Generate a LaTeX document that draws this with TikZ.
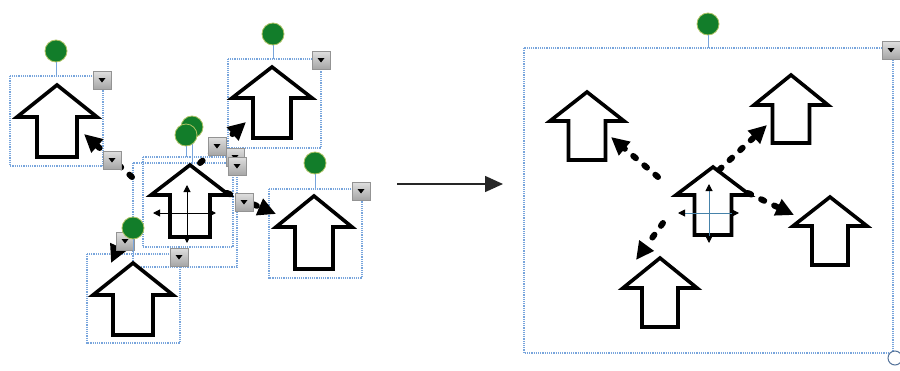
\documentclass[tikz,border=0pt]{standalone}
\usetikzlibrary{arrows.meta}
\definecolor{selblue}{RGB}{120,165,220}
\definecolor{dotgreen}{RGB}{18,125,42}
\definecolor{greenrim}{RGB}{175,195,100}
\definecolor{crossblue}{RGB}{70,130,170}
\tikzset{
 selbox/.style={draw=selblue, line width=1.3pt, dash pattern=on 1.2pt off 1pt},
 arrshape/.style={draw=black, fill=white, line width=3.6pt, line join=miter},
 handle/.style={circle, fill=dotgreen, draw=greenrim, line width=0.8pt, minimum size=22pt, inner sep=0pt},
 stem/.style={draw=selblue, line width=1pt},
 menubtn/.style={rectangle, minimum size=18pt, inner sep=0pt, draw=gray!85, top color=gray!25, bottom color=gray!70},
 dasharr/.style={line width=6pt, line cap=round, dash pattern=on 3.5pt off 11pt, -{Triangle[length=18pt,width=17pt]}},
 movecross/.style={line width=1pt, {Triangle[length=7pt,width=7pt,color=black]}-{Triangle[length=7pt,width=7pt,color=black]}},
 flowarr/.style={draw=black!85, line width=1.5pt, -{Triangle[length=18pt,width=16pt]}},
 resizer/.style={circle, draw=selblue!70!black, fill=white, line width=1pt, minimum size=14pt, inner sep=0pt},
}
% name, cx, tip y, head base y, bottom y, head half width, shaft half width
\newcommand{\UpArr}[7]{%
 \draw[arrshape] (#2,#3) -- (#2+#6,#4) -- (#2+#7,#4) -- (#2+#7,#5) -- (#2-#7,#5) -- (#2-#7,#4) -- (#2-#6,#4) -- cycle;
 \coordinate (#1) at (#2,#3);}
\newcommand{\Btn}[3]{%
 \node[menubtn] (#1) at (#2,#3) {};
 \fill (#1.center) +(-3.5,-2) -- +(3.5,-2) -- +(0,2.5) -- cycle;}
\newcommand{\Handle}[4]{%
 \coordinate (#1-s) at (#2,#4);
 \node[handle] (#1) at (#2,#3) {};
 \draw[stem] (#1.south) -- (#1-s);}
\begin{document}
\begin{tikzpicture}[x=1pt,y=-1pt]
\useasboundingbox[fill=white] (0,0) rectangle (900,370);

% ---------- left: selection boxes ----------
\draw[selbox] (10,76) rectangle (103,166);
\draw[selbox] (228,59) rectangle (321,148);
\draw[selbox] (269,189) rectangle (362,278);
\draw[selbox] (87,254) rectangle (180,343);
\draw[selbox] (143,157) rectangle (233,247);
\draw[selbox] (133,163) rectangle (237,267);

% ---------- left: arrow shapes ----------
\UpArr{la}{57}{85}{117}{157}{40}{20}
\UpArr{lb}{272}{67}{98}{138}{40}{19}
\UpArr{lc}{314}{196}{227}{269}{38}{19}
\UpArr{ld}{133}{263}{295}{335}{40}{20}
\UpArr{le}{190}{165}{195}{237}{39}{20}
\coordinate (lcv1) at (187,185); \coordinate (lcv2) at (187,243);
\coordinate (lch1) at (153,213); \coordinate (lch2) at (216,213);
\draw[movecross] (lcv1) -- (lcv2);
\draw[movecross] (lch1) -- (lch2);

% ---------- left: dashed arrows ----------
\coordinate (lsA) at (132,177); \coordinate (ltA) at (84,134);
\coordinate (lsB) at (200,163); \coordinate (ltB) at (246,122);
\coordinate (lsC) at (227,193); \coordinate (ltC) at (276,214);
\coordinate (lsD) at (127,228); \coordinate (ltD) at (111,263);
\draw[dasharr] (lsA) -- (ltA);
\draw[dasharr] (lsB) -- (ltB);
\draw[dasharr] (lsC) -- (ltC);
\draw[dasharr] (lsD) -- (ltD);

% ---------- left: menu buttons ----------
\Btn{bda}{112}{160}
\Btn{bdb}{217}{146}
\Btn{bdc}{244}{202}
\Btn{bdd}{125}{241}
\Btn{bla}{102}{80}
\Btn{blb}{321}{60}
\Btn{blc}{361}{191}
\Btn{bld}{179}{257}
\Btn{ble}{235}{157}
\Btn{blf}{237}{166}

% ---------- left: handles ----------
\Handle{hla}{56}{51}{76}
\Handle{hlb}{273}{34}{59}
\Handle{hlc}{315}{163}{189}
\Handle{hld}{133}{228}{254}
\Handle{hlf}{192}{127}{163}
\Handle{hle}{186}{135}{157}

% ---------- middle arrow ----------
\coordinate (ms) at (397,184); \coordinate (mt) at (503,184);
\draw[flowarr] (ms) -- (mt);

% ---------- right ----------
\draw[selbox] (524,48) rectangle (893,353);
\Handle{hr}{708}{24}{48}
\Btn{br}{891}{50}
\node[resizer] (rz) at (895,358) {};

\UpArr{ra}{587}{92}{121}{160}{37}{18.5}
\UpArr{rb}{791}{75}{105}{143}{37}{18.5}
\UpArr{rc}{830}{197}{226}{265}{37}{18}
\UpArr{rd}{660}{258}{288}{327}{37}{18}
\UpArr{re}{713}{167}{195}{235}{37}{18.5}
\coordinate (rcv1) at (709,184); \coordinate (rcv2) at (709,243);
\coordinate (rch1) at (678,213); \coordinate (rch2) at (739,213);
\draw[movecross, crossblue] (rcv1) -- (rcv2);
\draw[movecross, crossblue] (rch1) -- (rch2);

\coordinate (rsA) at (658,177); \coordinate (rtA) at (611,137);
\coordinate (rsB) at (719,170); \coordinate (rtB) at (767,125);
\coordinate (rsC) at (748,193); \coordinate (rtC) at (794,215);
\coordinate (rsD) at (663,223); \coordinate (rtD) at (636,260);
\draw[dasharr] (rsA) -- (rtA);
\draw[dasharr] (rsB) -- (rtB);
\draw[dasharr] (rsC) -- (rtC);
\draw[dasharr] (rsD) -- (rtD);
\end{tikzpicture}
\end{document}
